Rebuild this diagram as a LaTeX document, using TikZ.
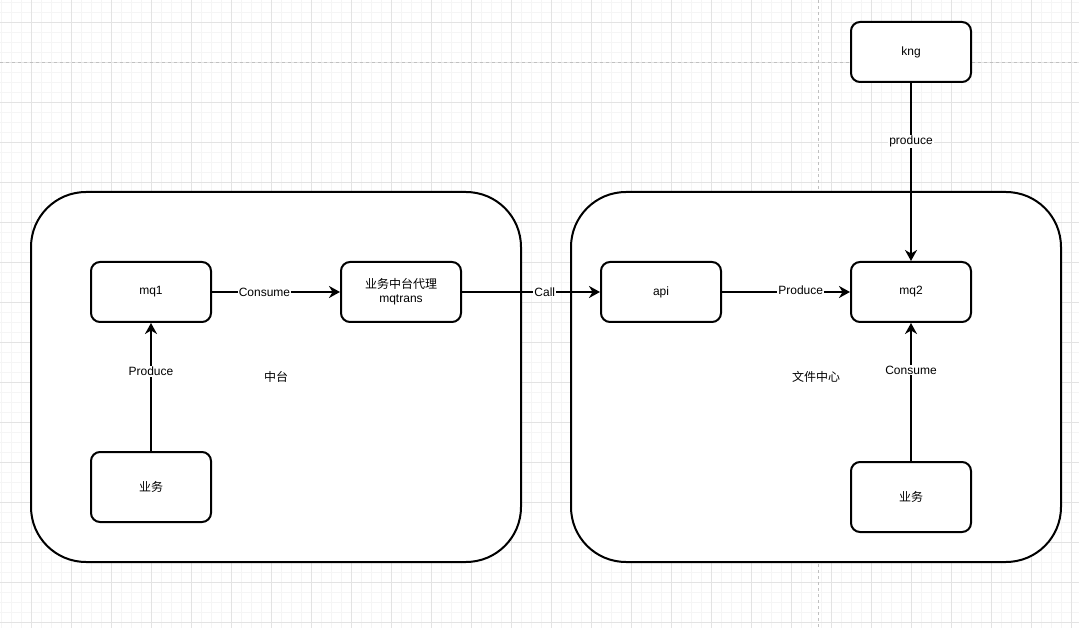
\documentclass[tikz,border=0pt]{standalone}
\usepackage{fontspec}
\setmainfont{Liberation Sans}
\newfontfamily\cjk{Noto Sans CJK SC}
\usetikzlibrary{arrows.meta}
\definecolor{gridminor}{HTML}{F5F5F5}
\definecolor{gridmajor}{HTML}{E3E3E3}
\definecolor{pagebreak}{HTML}{C0C0C0}
\tikzset{
  box/.style={draw=black, line width=2pt, fill=white, rounded corners=9pt,
    minimum width=120pt, minimum height=60pt, inner sep=0pt, align=center,
    font=\fontsize{12pt}{14pt}\selectfont},
  tallbox/.style={box, minimum height=70pt},
  container/.style={draw=black, line width=2pt, fill=white, rounded corners=55pt,
    minimum width=490pt, minimum height=370pt, inner sep=0pt,
    font=\fontsize{12pt}{14pt}\selectfont},
  conn/.style={line width=2pt, -{Stealth[length=11pt,width=12pt,inset=3.5pt]}},
  lbl/.style={fill=white, inner sep=1pt, font=\fontsize{12pt}{14pt}\selectfont}
}
\begin{document}
\begin{tikzpicture}[x=1pt,y=-1pt]
\useasboundingbox (0,0) rectangle (1079,628);
\fill[white] (0,0) rectangle (1079,628);
% grid
\foreach \x in {1,11,...,1071} \draw[gridminor, line width=0.7pt] (\x,0) -- (\x,628);
\foreach \y in {2,12,...,622} \draw[gridminor, line width=0.7pt] (0,\y) -- (1079,\y);
\foreach \x in {31,71,...,1071} \draw[gridmajor, line width=0.8pt] (\x,0) -- (\x,628);
\foreach \y in {22,62,...,622} \draw[gridmajor, line width=0.8pt] (0,\y) -- (1079,\y);
% page break lines
\draw[pagebreak, line width=0.8pt, dash pattern=on 3pt off 3pt] (0,62) -- (1079,62);
\draw[pagebreak, line width=0.8pt, dash pattern=on 3pt off 3pt] (818,0) -- (818,628);
% containers
\node[container] (zt) at (276,377) {\cjk 中台};
\node[container] (wj) at (816,377) {\cjk 文件中心};
% boxes
\node[box] (mq1) at (151,292) {mq1};
\node[box] (trans) at (401,292) {{\cjk 业务中台代理}\\mqtrans};
\node[tallbox] (yw1) at (151,487) {\cjk 业务};
\node[box] (api) at (661,292) {api};
\node[box] (mq2) at (911,292) {mq2};
\node[box] (kng) at (911,52) {kng};
\node[tallbox] (yw2) at (911,497) {\cjk 业务};
% connectors
\draw[conn] (mq1) -- node[lbl, pos=0.41] {Consume} (trans);
\draw[conn] (trans) -- node[lbl, pos=0.6] {Call} (api);
\draw[conn] (api) -- node[lbl, pos=0.615, yshift=2pt] {Produce} (mq2);
\draw[conn] (kng) -- node[lbl, pos=0.33] {produce} (mq2);
\draw[conn] (yw1) -- node[lbl, pos=0.62] {Produce} (mq1);
\draw[conn] (yw2) -- node[lbl, pos=0.66] {Consume} (mq2);
\end{tikzpicture}
\end{document}
